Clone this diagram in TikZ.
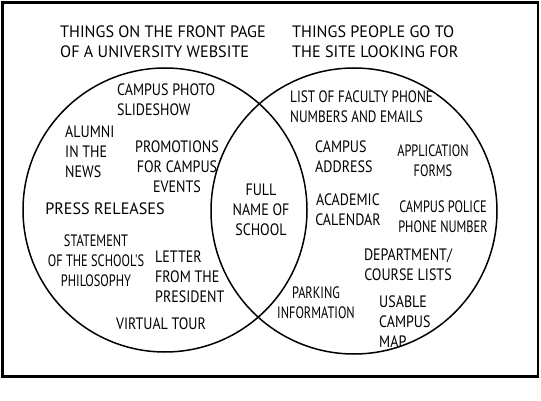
\documentclass[tikz,border=0pt]{standalone}
\usepackage{fontspec}
\setmainfont{PT Sans}[FakeStretch=0.85]
\newfontfamily\widehand{PT Sans}[FakeStretch=0.98]
\newfontfamily\narrowhand{PT Sans}[FakeStretch=0.75]
\newfontfamily\listhand{PT Sans}[FakeStretch=0.8]
\begin{document}
\begin{tikzpicture}[x=1pt,y=-1pt,
  entry/.style={align=center, inner sep=0pt, font=\fontsize{16.5}{20}\selectfont},
  wideentry/.style={entry, font=\widehand\fontsize{16.5}{20}\selectfont},
  narrowentry/.style={entry, font=\narrowhand\fontsize{16.5}{20}\selectfont},
  leftentry/.style={entry, align=left, anchor=west},
  heading/.style={leftentry, font=\widehand\fontsize{16.5}{20}\selectfont},
  setline/.style={line width=1.5pt}]
\useasboundingbox (0,0) rectangle (541,401);
\draw[line width=2.4pt] (2.5,2.5) rectangle (538,376.5);
% the two sets
\draw[setline] (165,210) circle[radius=142pt];
\draw[setline] (354,211) circle[radius=143pt];
% headings
\node[heading] (front) at (60,42) {THINGS ON THE FRONT PAGE\\OF A UNIVERSITY WEBSITE};
\node[heading] (sought) at (292,42) {THINGS PEOPLE GO TO\\THE SITE LOOKING FOR};
% front page only
\node[leftentry] (photo) at (117,100) {CAMPUS PHOTO\\SLIDESHOW};
\node[leftentry] (alumni) at (65,152) {ALUMNI\\IN THE\\NEWS};
\node[entry] (promo) at (177,167) {PROMOTIONS\\FOR CAMPUS\\EVENTS};
\node[wideentry] (press) at (105,209) {PRESS RELEASES};
\node[narrowentry] (philosophy) at (96,261) {STATEMENT\\OF THE SCHOOL'S\\PHILOSOPHY};
\node[leftentry] (letter) at (155,277) {LETTER\\FROM THE\\PRESIDENT};
\node[entry] (tour) at (161,324) {VIRTUAL TOUR};
% both
\node[entry] (fullname) at (261,210) {FULL\\NAME OF\\SCHOOL};
% looked for only
\node[leftentry, font=\listhand\fontsize{16.5}{20}\selectfont] (faculty) at (290,107) {LIST OF FACULTY PHONE\\NUMBERS AND EMAILS};
\node[leftentry] (address) at (315,157) {CAMPUS\\ADDRESS};
\node[narrowentry] (forms) at (433,161) {APPLICATION\\FORMS};
\node[entry] (calendar) at (348,210) {ACADEMIC\\CALENDAR};
\node[narrowentry] (police) at (443,217) {CAMPUS POLICE\\PHONE NUMBER};
\node[entry] (courses) at (408,265) {DEPARTMENT/\\COURSE LISTS};
\node[narrowentry] (parking) at (316,303) {PARKING\\INFORMATION};
\node[leftentry] (campusmap) at (379,322) {USABLE\\CAMPUS\\MAP};
\end{tikzpicture}
\end{document}
